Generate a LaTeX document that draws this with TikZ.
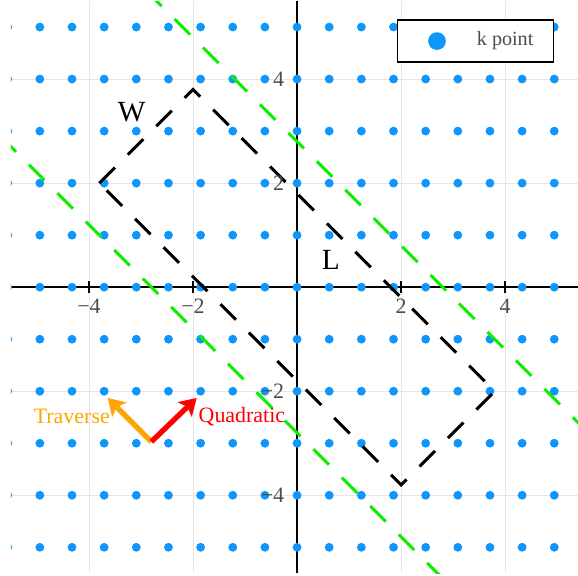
\documentclass[tikz,border=0pt]{standalone}
\usepackage{fontspec}
\setmainfont{Liberation Serif}
\usetikzlibrary{arrows.meta}
\definecolor{kblue}{RGB}{15,150,250}
\definecolor{kgreen}{RGB}{10,240,0}
\definecolor{kgrid}{RGB}{230,230,230}
\definecolor{ticktext}{RGB}{75,75,75}
\definecolor{korange}{RGB}{255,165,0}

\begin{document}
\begin{tikzpicture}[
  kdot/.style={fill=kblue},
  gridline/.style={draw=kgrid, line width=0.5pt},
  axis/.style={draw=black, line width=1.1pt},
  zone/.style={draw=black, line width=1.7pt, dash pattern=on 12pt off 10pt},
  bound/.style={draw=kgreen, line width=1.6pt, dash pattern=on 12pt off 10pt},
  ticklab/.style={text=ticktext, font=\fontsize{12}{14}\selectfont, inner sep=0pt},
  vec/.style={line width=2.9pt, -{Stealth[length=9pt,width=11pt,inset=2pt]}},
  lab/.style={font=\fontsize{16}{18}\selectfont, inner sep=0pt},
  veclab/.style={font=\fontsize{12}{14}\selectfont, inner sep=0pt}
]
  \useasboundingbox (-5.71,-5.54) rectangle (5.40,5.52);
  \begin{scope}
    \clip (-5.5,-5.5) rectangle (5.5,5.5);
    \foreach \v in {-4,-2,2,4} {
      \draw[gridline] (\v,-5.5) -- (\v,5.5);
      \draw[gridline] (-5.5,\v) -- (5.5,\v);
    }
    \draw[axis] (-5.5,0) -- (5.5,0);
    \draw[axis] (0,-5.5) -- (0,5.5);
    \foreach \v in {-4,-2,2,4}
      \draw[axis, line width=0.9pt] (\v,-0.12) -- (\v,0.12);
    \foreach \i in {-9,...,8}
      \foreach \j in {-5,...,5}
        \fill[kdot] (\i*0.618,\j) circle (0.085);

    \coordinate (cl) at (-3.8,2);
    \coordinate (ct) at (-2,3.8);
    \coordinate (cr) at (3.8,-2);
    \coordinate (cb) at (2,-3.8);
    \draw[zone] (cl) -- (ct) -- (cr) -- (cb) -- cycle;

    \coordinate (up1) at (-2.9,5.7);
    \coordinate (up2) at (5.7,-2.9);
    \coordinate (lo1) at (-5.7,2.9);
    \coordinate (lo2) at (2.9,-5.7);
    \draw[bound] (up1) -- (up2);
    \draw[bound] (lo1) -- (lo2);
  \end{scope}

  \foreach \v/\t in {-4/−4,-2/−2,2/2,4/4} {
    \node[ticklab] (xt\v) at (\v,-0.37) {\t};
    \node[ticklab, anchor=east] (yt\v) at (-0.24,\v) {\t};
  }

  \node[lab] (wlab) at (-3.18,3.37) {W};
  \node[lab] (llab) at (0.65,0.52) {L};

  \coordinate (base) at (-2.8,-2.97);
  \coordinate (travtip) at (-3.64,-2.13);
  \coordinate (quadtip) at (-1.93,-2.13);
  \draw[vec, korange] (base) -- (travtip);
  \draw[vec, red] (base) -- (quadtip);
  \node[veclab, text=korange] (travlab) at (-4.33,-2.49) {Traverse};
  \node[veclab, text=red] (quadlab) at (-1.06,-2.49) {Quadratic};

  \node[draw, line width=1pt, fill=white, minimum width=3cm, minimum height=0.8cm,
        inner sep=0pt] (legend) at (3.43,4.73) {};
  \fill[kblue] (2.69,4.73) circle (0.17);
  \node[veclab, text=ticktext, font=\fontsize{11}{13}\selectfont] (legtext) at (4.0,4.73) {k point};
\end{tikzpicture}
\end{document}
